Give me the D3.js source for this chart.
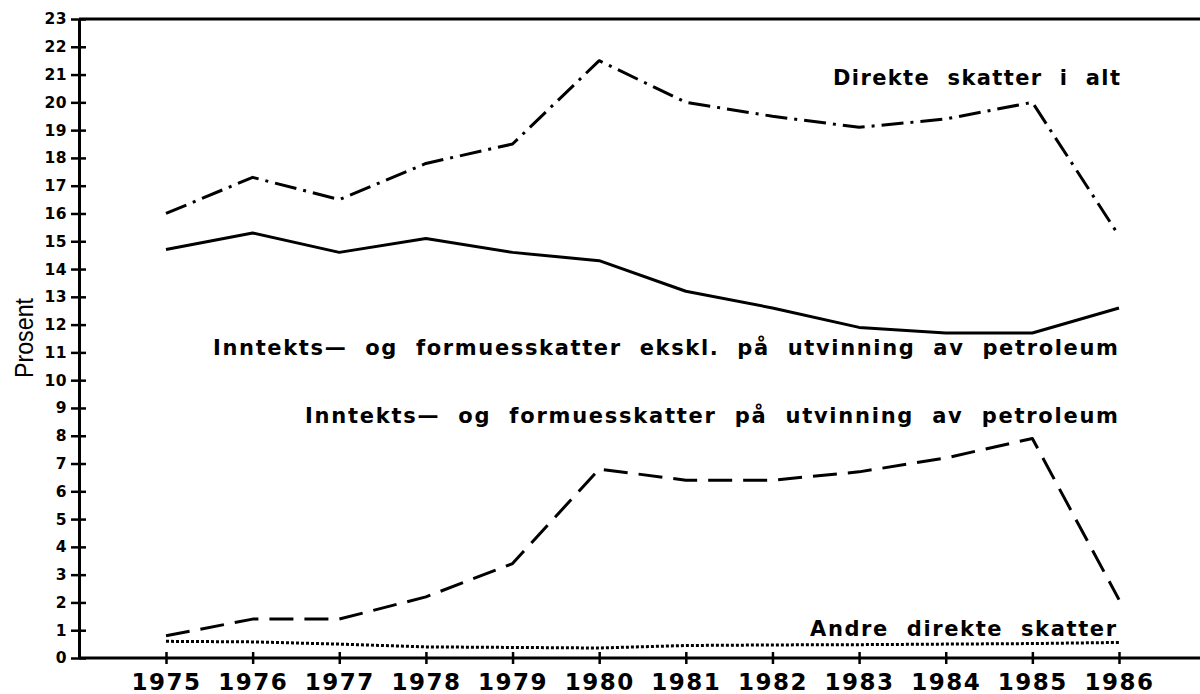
<!DOCTYPE html>
<html>
<head>
<meta charset="utf-8">
<script src="https://cdn.jsdelivr.net/npm/d3@7"></script>
<style>
  body { margin: 0; background: #fff; }
  svg { display: block; }
</style>
</head>
<body>
<svg id="chart" width="1200" height="694"></svg>
<script>
// data
const years = [1975, 1976, 1977, 1978, 1979, 1980, 1981, 1982, 1983, 1984, 1985, 1986];
const direkteIalt = [16.0, 17.3, 16.5, 17.8, 18.5, 21.5, 20.0, 19.5, 19.1, 19.4, 20.0, 15.2];
const inntektEkskl = [14.7, 15.3, 14.6, 15.1, 14.6, 14.3, 13.2, 12.6, 11.9, 11.7, 11.7, 12.6];
const inntektPetro = [0.8, 1.4, 1.4, 2.2, 3.4, 6.8, 6.4, 6.4, 6.7, 7.2, 7.9, 2.1];
const andreDirekte = [0.6, 0.58, 0.5, 0.4, 0.38, 0.36, 0.45, 0.47, 0.48, 0.5, 0.52, 0.56];
const yTicks = d3.range(0, 24);

const series = [
  {name: "Direkte  skatter  i  alt", values: direkteIalt, dash: "22,7,3,7", width: 3,
   lx: 1120, ly: 85, len: 287},
  {name: "Inntekts\u2014  og  formuesskatter  ekskl.  p\u00e5  utvinning  av  petroleum",
   values: inntektEkskl, dash: null, width: 3, lx: 1118, ly: 355, len: 905},
  {name: "Inntekts\u2014  og  formuesskatter  p\u00e5  utvinning  av  petroleum",
   values: inntektPetro, dash: "24,11", width: 3, lx: 1118, ly: 423, len: 813},
  {name: "Andre  direkte  skatter", values: andreDirekte, dash: "3,2", width: 3,
   lx: 1116, ly: 636, len: 306}
];

let svg = d3.select("#chart");

let xScale = d3.scaleLinear().domain([1975, 1986]).range([166, 1119]);
let yScale = d3.scaleLinear().domain([0, 23]).range([658, 19]);

let axisX0 = 79;

// frame: top line and bottom line run to the right edge
svg.append("line")
    .attr("x1", axisX0).attr("x2", 1200)
    .attr("y1", yScale(23)).attr("y2", yScale(23))
    .attr("stroke", "#000").attr("stroke-width", 3);
svg.append("line")
    .attr("x1", axisX0).attr("x2", 1200)
    .attr("y1", yScale(0)).attr("y2", yScale(0))
    .attr("stroke", "#000").attr("stroke-width", 3);

// y axis
let yAxis = d3.axisLeft(yScale).tickValues(yTicks).tickSize(0).tickPadding(12)
    .tickFormat(d3.format("d"));
let gy = svg.append("g")
    .attr("transform", "translate(" + axisX0 + ",0)")
    .call(yAxis);
gy.select(".domain").attr("stroke", "#000").attr("stroke-width", 3);
gy.selectAll(".tick line").attr("x1", -8).attr("x2", 7)
    .attr("stroke", "#000").attr("stroke-width", 2.5);
gy.selectAll(".tick text")
    .attr("x", -12)
    .style("font-family", "DejaVu Sans")
    .style("font-weight", "bold")
    .style("font-size", "15.5px")
    .style("letter-spacing", "0.5px")
    .attr("fill", "#000");

// x axis
let xAxis = d3.axisBottom(xScale).tickValues(years).tickSize(0).tickPadding(0)
    .tickFormat(d3.format("d"));
let gx = svg.append("g")
    .attr("transform", "translate(0," + yScale(0) + ")")
    .call(xAxis);
gx.select(".domain").remove();
gx.selectAll(".tick line").attr("y1", -6).attr("y2", 6)
    .attr("stroke", "#000").attr("stroke-width", 2.5);
gx.selectAll(".tick text")
    .attr("y", 32).attr("dy", 0)
    .style("font-family", "DejaVu Sans")
    .style("font-weight", "bold")
    .style("font-size", "23px")
    .style("letter-spacing", "1.5px")
    .attr("fill", "#000");

// y axis title
svg.append("text")
    .attr("transform", "translate(33,338) rotate(-90)")
    .attr("text-anchor", "middle")
    .attr("textLength", 80)
    .attr("lengthAdjust", "spacingAndGlyphs")
    .style("font-family", "Liberation Sans")
    .style("font-size", "25px")
    .text("Prosent");

// lines
let line = d3.line()
    .x((d, i) => xScale(years[i]))
    .y(d => yScale(d));

series.forEach(s => {
  let p = svg.append("path")
      .datum(s.values)
      .attr("d", line)
      .attr("fill", "none")
      .attr("stroke", "#000")
      .attr("stroke-width", s.width)
      .attr("stroke-linejoin", "round");
  if (s.dash) p.attr("stroke-dasharray", s.dash);

  svg.append("text")
      .attr("x", s.lx - s.len).attr("y", s.ly)
      .attr("textLength", s.len)
      .attr("lengthAdjust", "spacing")
      .style("font-family", "DejaVu Sans")
      .style("font-weight", "bold")
      .style("font-size", "21px")
      .style("white-space", "pre")
      .attr("fill", "#000")
      .text(s.name);
});
</script>
</body>
</html>
